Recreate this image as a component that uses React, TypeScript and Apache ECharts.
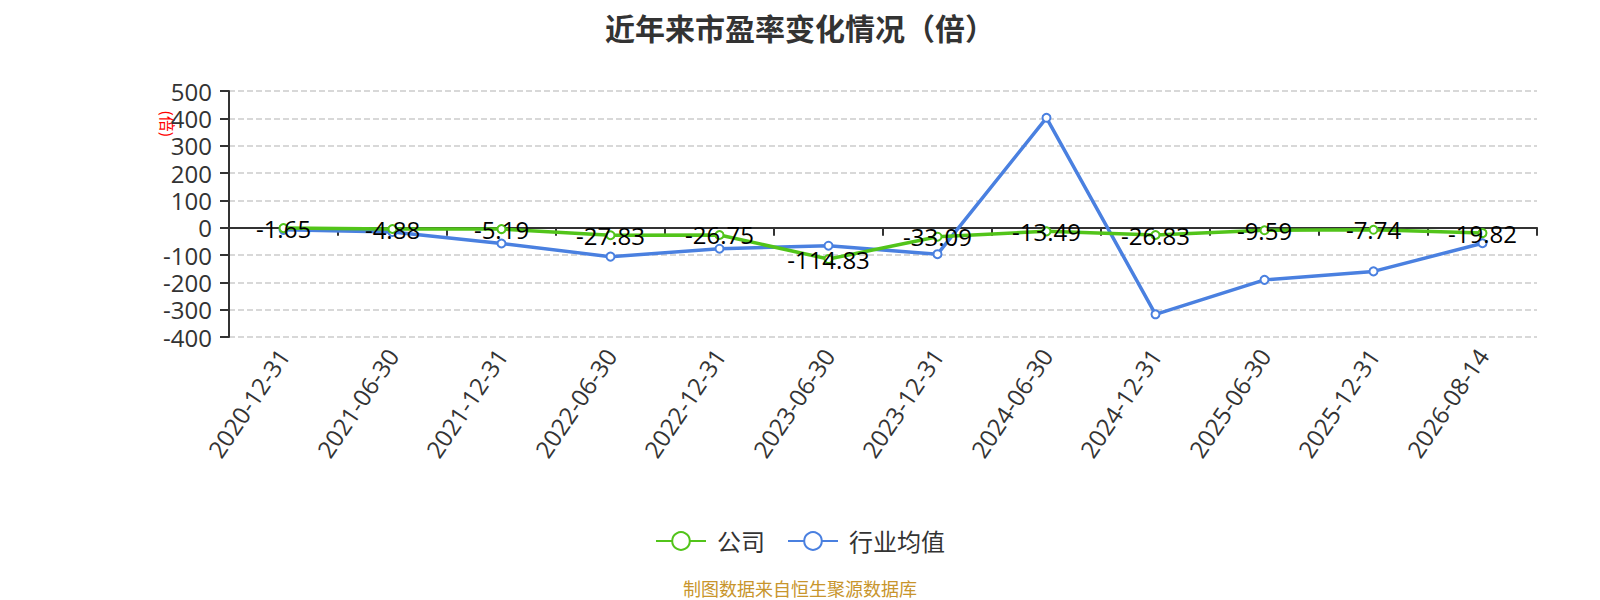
import React, { useEffect, useRef } from "react";
import * as echarts from "echarts";

const categories = [
  "2020-12-31", "2021-06-30", "2021-12-31", "2022-06-30", "2022-12-31", "2023-06-30",
  "2023-12-31", "2024-06-30", "2024-12-31", "2025-06-30", "2025-12-31", "2026-08-14",
];
const companyPE = [-1.65, -4.88, -5.19, -27.83, -26.75, -114.83, -33.09, -13.49, -26.83, -9.59, -7.74, -19.82];
const industryPE = [-8, -16, -58, -106, -77, -66, -97, 402, -317, -191, -160, -57];
const yTicks = { min: -400, max: 500, interval: 100 };

const FONT = "'Open Sans', 'Noto Sans CJK SC', sans-serif";
const GREEN = "#52c41a";
const BLUE = "#4a80e0";

export default function App() {
  const ref = useRef<HTMLDivElement>(null);
  useEffect(() => {
    if (!ref.current) return;
    const chart = echarts.init(ref.current, null, { renderer: "svg" });
    chart.setOption({
      animation: false,
      textStyle: { fontFamily: FONT },
      title: {
        text: "近年来市盈率变化情况（倍）",
        left: "center",
        top: 4,
        padding: 0,
        textStyle: { fontSize: 30, fontWeight: "bold", color: "#333", fontFamily: FONT, lineHeight: 32 },
      },
      legend: {
        top: 516,
        left: "center",
        itemWidth: 50,
        itemHeight: 22,
        itemGap: 22,
        textStyle: { fontSize: 24, color: "#333", fontFamily: FONT, padding: [0, 0, 0, 6] },
        data: ["公司", "行业均值"],
      },
      grid: { left: 221, right: 55, top: 83, bottom: 271, containLabel: false },
      xAxis: [
        {
          type: "category",
          data: categories,
          boundaryGap: true,
          axisLine: { show: false, onZero: false },
          axisTick: { show: false },
          axisLabel: { rotate: 56, fontSize: 24, color: "#333", margin: 14, fontFamily: FONT },
        },
        {
          type: "category",
          data: categories,
          position: "bottom",
          boundaryGap: true,
          axisLine: { show: true, onZero: true, lineStyle: { color: "#333", width: 2 } },
          axisTick: { show: true, length: 8, lineStyle: { color: "#333", width: 2 } },
          axisLabel: { show: false },
        },
      ],
      yAxis: {
        type: "value",
        min: yTicks.min,
        max: yTicks.max,
        interval: yTicks.interval,
        axisLine: { show: true, lineStyle: { color: "#333", width: 2 } },
        axisTick: { show: true, length: 9, lineStyle: { color: "#333", width: 2 } },
        axisLabel: { fontSize: 24, color: "#333", margin: 17, fontFamily: FONT },
        splitLine: { show: true, lineStyle: { type: "dashed", color: "#ccc", width: 1.5 } },
      },
      graphic: [
        {
          type: "text",
          x: 167,
          y: 103,
          rotation: -Math.PI / 2,
          style: { text: "(倍)", fill: "#ff0000", fontSize: 16, fontFamily: FONT },
        },
        {
          type: "text",
          left: "center",
          top: 572,
          style: { text: "制图数据来自恒生聚源数据库", fill: "#c8952c", fontSize: 18, fontFamily: FONT },
        },
      ],
      series: [
        {
          name: "公司",
          type: "line",
          xAxisIndex: 0,
          data: companyPE,
          symbol: "emptyCircle",
          symbolSize: 8,
          lineStyle: { width: 3.5, color: GREEN },
          itemStyle: { color: GREEN, borderWidth: 2 },
          label: { show: true, position: "inside", fontSize: 24, color: "#000", fontFamily: FONT },
          z: 3,
        },
        {
          name: "行业均值",
          type: "line",
          xAxisIndex: 0,
          data: industryPE,
          symbol: "emptyCircle",
          symbolSize: 8,
          lineStyle: { width: 3.5, color: BLUE },
          itemStyle: { color: BLUE, borderWidth: 2 },
          label: { show: false },
          z: 2,
        },
      ],
    });
    return () => chart.dispose();
  }, []);
  return <div ref={ref} style={{ width: 1584, height: 600 }} />;
}
